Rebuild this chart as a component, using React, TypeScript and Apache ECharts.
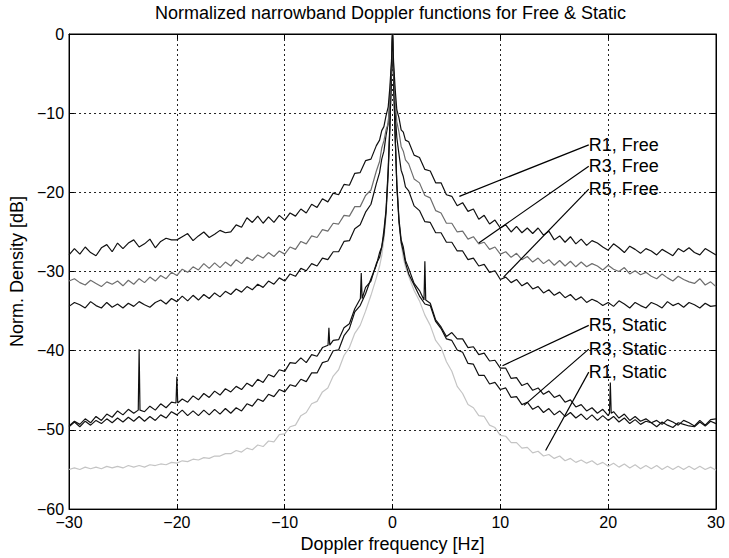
import React, { useEffect, useRef } from "react";
import * as echarts from "echarts";

// Doppler frequency grid (Hz)
const freqHz = [
  -30, -29.5, -29, -28.5, -28, -27.5, -27, -26.5, -26, -25.5,
  -25, -24.5, -24, -23.5, -23, -22.5, -22, -21.5, -21, -20.5,
  -20, -19.5, -19, -18.5, -18, -17.5, -17, -16.5, -16, -15.5,
  -15, -14.5, -14, -13.5, -13, -12.5, -12, -11.5, -11, -10.5,
  -10, -9.5, -9, -8.5, -8, -7.5, -7, -6.5, -6, -5.5,
  -5, -4.5, -4, -3.5, -3,
  -2.5, -2, -1.5, -1.2, -1, -0.8, -0.6, -0.4, -0.25, -0.1,
  0,
  0.1, 0.25, 0.4, 0.6, 0.8, 1, 1.2, 1.5, 2, 2.5,
  3, 3.5, 4, 4.5, 5, 5.5, 6, 6.5, 7, 7.5,
  8, 8.5, 9, 9.5, 10, 10.5, 11, 11.5, 12, 12.5,
  13, 13.5, 14, 14.5, 15, 15.5, 16, 16.5, 17, 17.5,
  18, 18.5, 19, 19.5, 20, 20.5, 21, 21.5, 22, 22.5,
  23, 23.5, 24, 24.5, 25, 25.5, 26, 26.5, 27, 27.5,
  28, 28.5, 29, 29.5, 30,
];

const r1Free = [
  -27.9, -27.1, -27.8, -26.9, -27.6, -28.0, -27.0, -26.6, -27.5, -26.4,
  -27.1, -26.4, -26.0, -26.9, -26.5, -25.9, -27.0, -26.2, -25.8, -26.0,
  -26.0, -25.6, -25.2, -26.1, -25.5, -25.0, -25.7, -25.3, -24.8, -25.1,
  -25.0, -24.1, -24.4, -23.2, -23.8, -23.0, -23.9, -23.1, -23.8, -22.9,
  -23.5, -22.6, -23.0, -22.1, -22.6, -21.5, -21.9, -20.8, -21.2, -20.1,
  -20.3, -19.0, -19.1, -17.6, -17.5,
  -16.0, -15.8, -14.1, -13.4, -12.2, -11.7, -10.3, -9.2, -6.8, -3.5,
  0,
  -3.6, -7.0, -9.6, -10.6, -12.1, -12.4, -13.4, -13.6, -15.3, -15.6,
  -17.1, -17.3, -18.8, -18.8, -20.3, -20.5, -21.7, -21.3, -22.4, -22.1,
  -23.4, -22.9, -24.0, -23.5, -24.5, -24.1, -25.0, -24.3, -25.1, -24.5,
  -25.2, -24.5, -25.4, -24.9, -26.0, -25.5, -26.3, -25.6, -26.5, -25.9,
  -26.7, -26.1, -26.4, -26.9, -27.3, -26.5, -27.0, -27.6, -26.8, -27.2,
  -27.7, -27.1, -27.4, -27.9, -27.2, -27.6, -28.0, -27.1, -27.5, -27.0,
  -27.6, -27.9, -27.1, -27.5, -27.9,
];

const r3Free = [
  -31.2, -30.9, -31.4, -31.7, -31.1, -31.5, -31.9, -31.3, -31.6, -31.2,
  -31.8, -31.1, -31.6, -30.9, -31.4, -30.7, -31.2, -30.5, -30.9, -30.1,
  -30.5, -29.7, -30.1, -29.4, -29.8, -29.0, -29.6, -28.9, -29.5, -28.8,
  -29.3, -28.5, -29.0, -28.2, -28.6, -27.9, -28.3, -27.6, -28.1, -27.4,
  -27.8, -26.9, -27.2, -26.2, -26.5, -25.5, -25.7, -24.7, -24.9, -23.9,
  -24.0, -22.9, -23.0, -21.8, -21.8,
  -20.4, -19.7, -17.3, -16.1, -14.4, -13.5, -12.1, -11.3, -8.0, -4.0,
  0,
  -4.2, -8.5, -11.1, -12.4, -14.2, -14.8, -15.9, -16.4, -18.3, -18.8,
  -20.4, -20.7, -22.3, -22.6, -23.9, -23.9, -25.0, -24.9, -25.9, -25.6,
  -26.5, -26.3, -27.2, -26.9, -27.8, -27.5, -28.2, -27.7, -28.5, -28.1,
  -28.8, -28.3, -29.0, -28.5, -29.2, -28.6, -29.3, -28.7, -29.4, -28.8,
  -29.4, -29.0, -29.3, -29.8, -29.2, -29.7, -30.0, -29.5, -30.3, -29.9,
  -30.4, -30.1, -30.6, -30.9, -30.3, -30.8, -31.2, -30.6, -31.0, -31.3,
  -31.5, -30.9, -31.7, -31.3, -31.9,
];

const r5Free = [
  -34.4, -33.9, -34.2, -34.6, -33.8, -34.3, -34.6, -33.9, -34.5, -34.1,
  -34.6, -34.0, -34.4, -33.8, -34.2, -34.5, -33.9, -33.6, -34.1, -33.4,
  -33.8, -33.1, -33.7, -33.0, -33.6, -32.9, -33.4, -32.7, -33.2, -32.5,
  -32.9, -32.2, -32.6, -31.9, -32.3, -31.6, -32.0, -31.2, -31.6, -30.8,
  -31.2, -30.3, -30.6, -29.6, -29.9, -29.0, -29.3, -28.3, -28.5, -27.5,
  -27.5, -26.2, -26.1, -24.6, -24.1,
  -22.5, -21.5, -18.9, -17.5, -15.8, -14.8, -12.8, -11.3, -8.8, -4.5,
  0,
  -5.0, -10.0, -13.1, -15.2, -17.2, -18.0, -19.3, -19.8, -21.7, -22.3,
  -23.7, -23.8, -25.1, -25.1, -26.3, -26.3, -27.4, -27.4, -28.5, -28.3,
  -29.3, -29.1, -30.1, -29.9, -31.0, -30.7, -31.4, -31.0, -31.8, -31.4,
  -32.2, -31.9, -32.7, -32.3, -33.0, -32.6, -33.3, -32.9, -33.6, -33.2,
  -33.9, -33.5, -33.8, -34.3, -33.9, -34.4, -33.7, -34.1, -34.6, -33.9,
  -34.3, -34.6, -33.9, -34.2, -34.6, -33.8, -34.3, -34.0, -34.5, -33.9,
  -34.2, -34.6, -34.0, -34.4, -34.3,
];

const r5Static = [
  -49.5, -48.9, -49.3, -48.6, -49.1, -48.3, -48.8, -48.0, -48.4, -47.6,
  -48.1, -47.4, -47.9, -47.2, -47.7, -47.0, -47.5, -46.7, -47.2, -46.5,
  -46.9, -46.1, -46.5, -45.7, -46.2, -45.4, -45.9, -45.1, -45.6, -44.8,
  -45.2, -44.5, -44.9, -44.1, -44.5, -43.6, -44.0, -43.0, -43.3, -42.4,
  -42.6, -41.5, -41.6, -40.9, -41.5, -40.5, -40.7, -39.6, -39.8, -38.7,
  -38.6, -37.1, -36.6, -34.7, -33.9,
  -32.0, -31.2, -29.0, -28.2, -26.9, -25.4, -22.5, -17.5, -12.0, -5.0,
  0,
  -5.5, -13.0, -19.0, -23.4, -26.0, -26.9, -28.6, -29.6, -31.5, -32.4,
  -33.4, -34.0, -36.1, -37.0, -38.2, -37.7, -38.5, -38.5, -39.6, -39.5,
  -40.5, -40.3, -41.3, -41.2, -42.2, -42.2, -43.5, -43.4, -44.4, -44.1,
  -45.0, -44.7, -45.5, -45.1, -45.9, -45.6, -46.5, -46.2, -47.1, -46.8,
  -47.6, -47.2, -47.9, -47.4, -48.2, -47.7, -48.5, -48.0, -48.8, -48.3,
  -48.9, -48.6, -49.1, -48.8, -49.3, -48.7, -49.0, -49.4, -48.8, -49.1,
  -49.5, -48.8, -49.4, -48.7, -48.6,
];

// narrow spectral lines on the R5 static curve
const spikeHz = [-23.5, -20, -5.9, -2.9, 3.0, 20.2];
const spikeTopDb = [-39.8, -43.3, -37.1, -30.2, -28.7, -44.0];
const spikeBaseDb = [-47.5, -46.6, -39.3, -33.4, -33.6, -47.9];

const r3Static = [
  -49.6, -49.0, -49.6, -48.9, -49.4, -48.8, -49.2, -48.6, -49.1, -48.5,
  -49.0, -48.4, -48.9, -48.3, -48.9, -48.3, -48.8, -48.1, -48.5, -47.7,
  -48.1, -47.5, -48.2, -47.6, -48.2, -47.5, -48.1, -47.4, -48.0, -47.3,
  -47.9, -47.2, -47.6, -46.7, -47.0, -46.1, -46.4, -45.5, -45.8, -44.9,
  -45.2, -44.3, -44.5, -43.6, -43.9, -42.8, -42.8, -41.5, -41.3, -40.0,
  -39.9, -38.1, -37.2, -35.1, -34.3,
  -32.8, -30.9, -29.2, -27.6, -26.9, -24.8, -22.2, -17.0, -11.5, -5.0,
  0,
  -5.6, -13.2, -19.2, -23.8, -26.3, -27.5, -28.9, -30.3, -31.7, -33.1,
  -34.1, -34.3, -36.3, -37.2, -38.5, -38.7, -39.9, -40.2, -41.6, -41.7,
  -43.1, -43.1, -44.2, -44.0, -44.9, -44.7, -45.9, -45.8, -46.8, -46.5,
  -47.4, -47.0, -47.8, -47.3, -48.1, -47.6, -48.3, -47.8, -48.5, -48.0,
  -48.7, -48.1, -48.8, -48.2, -48.8, -48.3, -49.0, -48.5, -49.2, -48.7,
  -49.3, -48.9, -49.1, -49.6, -49.0, -49.4, -49.7, -49.1, -49.3, -49.5,
  -49.6, -49.0, -49.5, -48.9, -49.2,
];

const r1Static = [
  -55.0, -54.8, -55.0, -54.7, -54.9, -54.7, -54.9, -54.6, -54.8, -54.6,
  -54.8, -54.5, -54.7, -54.5, -54.7, -54.4, -54.5, -54.3, -54.4, -54.1,
  -54.2, -53.9, -54.0, -53.7, -53.8, -53.5, -53.6, -53.3, -53.3, -53.0,
  -53.0, -52.6, -52.8, -52.3, -52.5, -51.9, -52.1, -51.4, -51.5, -50.6,
  -50.5, -49.6, -49.4, -48.2, -47.8, -46.7, -46.4, -45.2, -44.7, -43.2,
  -42.4, -40.6, -39.6, -37.8, -36.8,
  -35.0, -33.0, -30.8, -29.3, -28.0, -26.0, -23.0, -18.0, -12.5, -5.5,
  0,
  -5.5, -12.5, -18.5, -23.5, -26.5, -28.3, -29.4, -30.6, -32.4, -33.7,
  -35.5, -36.8, -38.7, -39.6, -41.4, -42.6, -44.5, -45.4, -46.8, -47.2,
  -48.2, -48.3, -49.4, -49.7, -50.7, -50.8, -51.6, -51.6, -52.3, -52.2,
  -52.9, -52.7, -53.3, -53.1, -53.6, -53.3, -53.9, -53.6, -54.1, -53.8,
  -54.2, -53.9, -54.4, -54.1, -54.6, -54.2, -54.7, -54.3, -54.8, -54.4,
  -54.9, -54.5, -54.9, -54.5, -55.0, -54.6, -55.0, -54.6, -55.0, -54.6,
  -55.0, -54.6, -55.0, -54.7, -55.1,
];

// annotations: label anchor and the curve point the leader line touches
const annLabels = ["R1, Free", "R3, Free", "R5, Free", "R5, Static", "R3, Static", "R1, Static"];
const annLabelHz = [18.2, 18.2, 18.2, 18.2, 18.2, 18.2];
const annLabelDb = [-14.0, -16.7, -19.6, -36.8, -39.8, -42.7];
const annTargetHz = [6.2, 8.0, 10.3, 10.2, 12.2, 14.2];
const annTargetDb = [-20.5, -26.4, -30.7, -41.9, -46.9, -52.6];

const xTicks = { min: -30, max: 30, interval: 10 };
const yTicks = { min: -60, max: 0, interval: 10 };

const FONT = "'Liberation Sans', Arial, Helvetica, sans-serif";

function pairs(hz: number[], db: number[]) {
  return hz.map((h, i) => [h, db[i]]);
}

function withSpikes(hz: number[], db: number[]) {
  const pts = pairs(hz, db).filter(([h]) => spikeHz.every((s) => Math.abs(h - s) > 0.12));
  spikeHz.forEach((s, i) => {
    pts.push([s - 0.08, spikeBaseDb[i]], [s, spikeTopDb[i]], [s + 0.08, spikeBaseDb[i]]);
  });
  pts.sort((a, b) => a[0] - b[0]);
  return pts;
}

const minusFmt = (v: number) => (v < 0 ? "\u2212" + Math.abs(v) : String(v));

export default function App() {
  const ref = useRef<HTMLDivElement>(null);
  useEffect(() => {
    if (!ref.current) return;
    const chart = echarts.init(ref.current, null, { renderer: "svg" });
    const gridLine = { show: true, lineStyle: { color: "#222", type: [2, 3], width: 1 } };
    const mkX = (pos: "bottom" | "top", labels: boolean) => ({
      type: "value",
      position: pos,
      ...xTicks,
      axisLine: { show: true, onZero: false, lineStyle: { color: "#000", width: 1 } },
      axisTick: { show: true, inside: true, length: 5, lineStyle: { color: "#000" } },
      axisLabel: { show: labels, formatter: minusFmt, color: "#000", fontSize: 16, fontFamily: FONT, margin: 5 },
      splitLine: labels ? gridLine : { show: false },
      name: labels ? "Doppler frequency [Hz]" : "",
      nameLocation: "middle",
      nameGap: 24,
      nameTextStyle: { color: "#000", fontSize: 18, fontFamily: FONT },
    });
    const mkY = (pos: "left" | "right", labels: boolean) => ({
      type: "value",
      position: pos,
      ...yTicks,
      axisLine: { show: true, onZero: false, lineStyle: { color: "#000", width: 1 } },
      axisTick: { show: true, inside: true, length: 5, lineStyle: { color: "#000" } },
      axisLabel: { show: labels, formatter: minusFmt, color: "#000", fontSize: 16, fontFamily: FONT, margin: 5 },
      splitLine: labels ? gridLine : { show: false },
      name: labels ? "Norm. Density [dB]" : "",
      nameLocation: "middle",
      nameRotate: 90,
      nameGap: 37,
      nameTextStyle: { color: "#000", fontSize: 18, fontFamily: FONT },
    });
    const line = (name: string, data: number[][], color: string, width: number, z: number) => ({
      name,
      type: "line",
      data,
      showSymbol: false,
      symbol: "none",
      lineStyle: { color, width },
      z,
    });
    chart.setOption({
      animation: false,
      backgroundColor: "#fff",
      textStyle: { fontFamily: FONT },
      grid: { left: 65, right: 13, top: 34, bottom: 45, show: true, borderColor: "#000", borderWidth: 1, backgroundColor: "#fff" },
      xAxis: [mkX("bottom", true), mkX("top", false)],
      yAxis: [mkY("left", true), mkY("right", false)],
      series: [
        line("R1, Static", pairs(freqHz, r1Static), "#c4c4c4", 1.2, 2),
        line("R3, Static", pairs(freqHz, r3Static), "#111", 1.2, 3),
        line("R5, Static", withSpikes(freqHz, r5Static), "#111", 1.2, 4),
        line("R5, Free", pairs(freqHz, r5Free), "#111", 1.2, 5),
        line("R3, Free", pairs(freqHz, r3Free), "#6e6e6e", 1.2, 6),
        line("R1, Free", pairs(freqHz, r1Free), "#111", 1.2, 7),
      ],
    });
    const graphics: any[] = [];
    const gx = 65 + (729 - 65 - 13) / 2;
    graphics.push({
      type: "text",
      x: gx,
      y: 13,
      style: { text: "Normalized narrowband Doppler functions for Free & Static", fill: "#000", fontSize: 18, fontFamily: FONT, align: "center", verticalAlign: "middle" },
    });
    annLabels.forEach((label, i) => {
      const a = chart.convertToPixel({ gridIndex: 0 } as any, [annLabelHz[i], annLabelDb[i]]) as number[];
      const b = chart.convertToPixel({ gridIndex: 0 } as any, [annTargetHz[i], annTargetDb[i]]) as number[];
      graphics.push({
        type: "line",
        shape: { x1: a[0], y1: a[1], x2: b[0], y2: b[1] },
        style: { stroke: "#000", lineWidth: 1.2 },
        z: 100,
      });
      graphics.push({
        type: "text",
        x: a[0],
        y: a[1],
        z: 101,
        style: { text: label, fill: "#000", fontSize: 18, fontFamily: FONT, align: "left", verticalAlign: "middle" },
      });
    });
    chart.setOption({ graphic: graphics });
    return () => chart.dispose();
  }, []);
  return (
    <div
      ref={ref}
      style={{ position: "absolute", left: 0, top: 0, width: 729, height: 558, background: "#fff" }}
    />
  );
}
